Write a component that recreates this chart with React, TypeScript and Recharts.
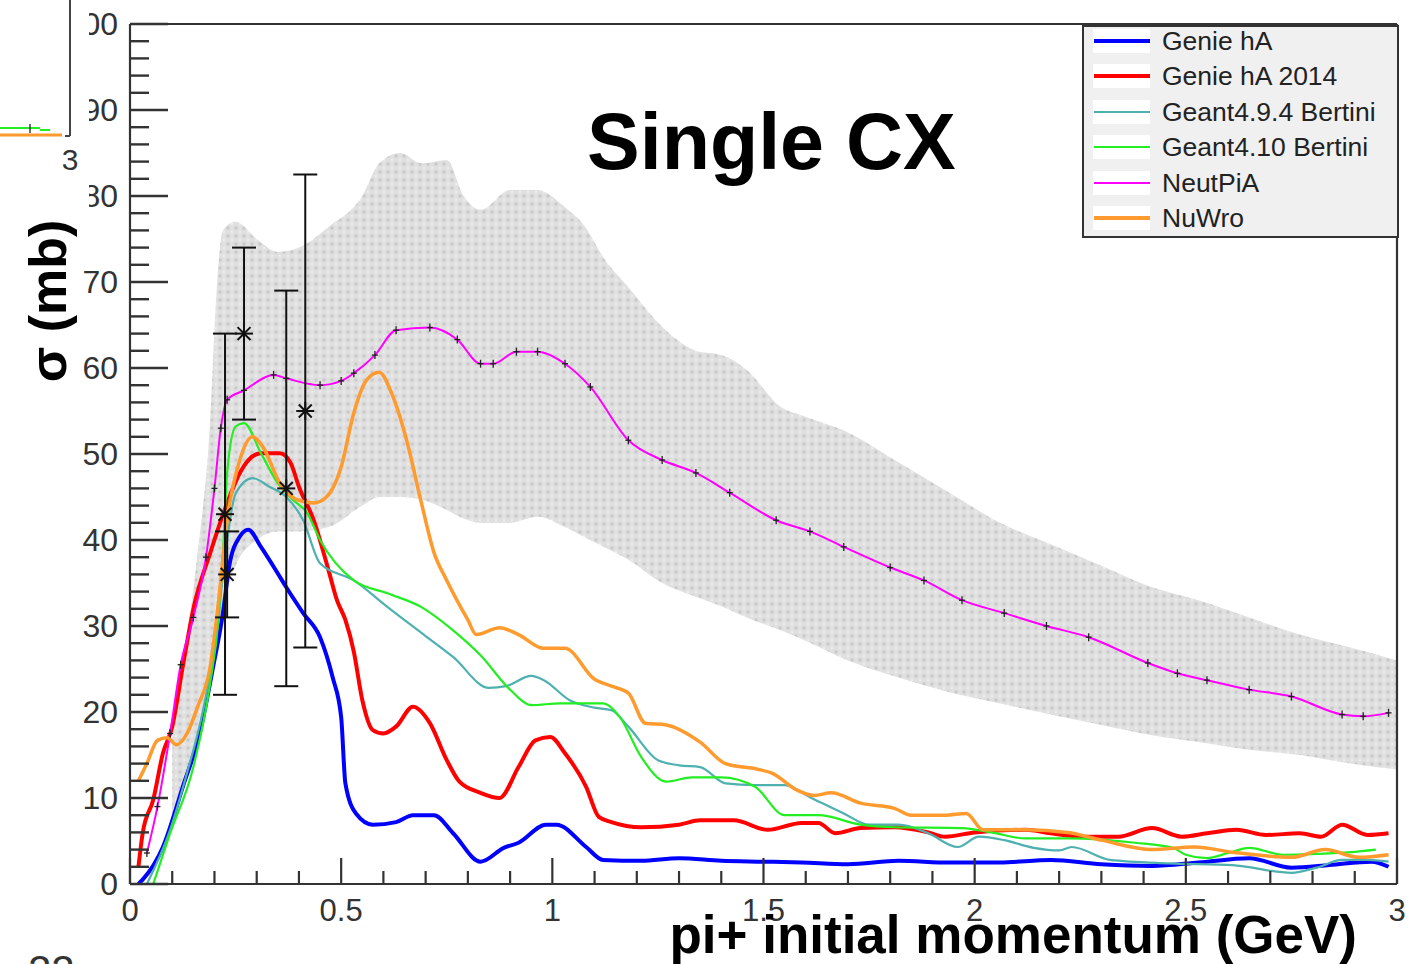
import React from 'react';
import {
  ComposedChart,
  Line,
  Area,
  Scatter,
  ErrorBar,
  XAxis,
  YAxis,
  ReferenceLine,
  Legend,
} from 'recharts';

type Pt = [number, number];

// pi+ single charge-exchange cross section (mb) vs initial momentum (GeV)
const genieHA: Pt[] = [
  [0.02, 0], [0.03, 0.5], [0.078, 4.3], [0.125, 11.3], [0.165, 17.5], [0.197, 25.3], [0.22, 31.5],
  [0.235, 37], [0.26, 40.4], [0.28, 41.2], [0.31, 39.2], [0.35, 36.1], [0.37, 34.5], [0.41, 31.5],
  [0.45, 28.7], [0.48, 24], [0.5, 19.4], [0.51, 11.7], [0.535, 8.2], [0.575, 6.9], [0.63, 7.2],
  [0.67, 8], [0.72, 8], [0.765, 5.9], [0.83, 2.6], [0.885, 4.2], [0.92, 4.8], [0.985, 6.9],
  [1.01, 6.9], [1.08, 4.3], [1.12, 2.8], [1.21, 2.7], [1.3, 3], [1.4, 2.7], [1.5, 2.6], [1.59, 2.5],
  [1.7, 2.3], [1.82, 2.7], [1.94, 2.5], [2.06, 2.5], [2.18, 2.8], [2.3, 2.3], [2.42, 2.1],
  [2.53, 2.5], [2.65, 3], [2.75, 1.9], [2.84, 2.2], [2.94, 2.6], [2.98, 2],
];

const genieHA2014: Pt[] = [
  [0.02, 2], [0.03, 5.9], [0.055, 9.8], [0.078, 15.2], [0.1, 18.3], [0.125, 25.3], [0.15, 32],
  [0.19, 38.5], [0.23, 44.3], [0.26, 47.8], [0.31, 50.1], [0.355, 50.1], [0.38, 49], [0.4, 46.2],
  [0.435, 42.3], [0.47, 36.5], [0.49, 33], [0.51, 30.7], [0.53, 27], [0.55, 21.4], [0.575, 17.9],
  [0.6, 17.5], [0.63, 18.3], [0.67, 20.6], [0.71, 18.7], [0.75, 14.4], [0.78, 11.9], [0.83, 10.6],
  [0.875, 10], [0.92, 13.6], [0.96, 16.7], [0.995, 17.1], [1.03, 15.2], [1.08, 11.3], [1.11, 7.8],
  [1.14, 7.2], [1.21, 6.6], [1.3, 6.9], [1.35, 7.4], [1.43, 7.4], [1.51, 6.3], [1.59, 7.1],
  [1.63, 7.1], [1.67, 5.9], [1.73, 6.5], [1.81, 6.6], [1.89, 6], [1.93, 5.5], [2.0, 6], [2.12, 6.3],
  [2.18, 5.9], [2.26, 5.5], [2.34, 5.5], [2.42, 6.5], [2.49, 5.5], [2.55, 5.9], [2.62, 6.3],
  [2.69, 5.7], [2.77, 5.9], [2.82, 5.5], [2.87, 6.9], [2.93, 5.7], [2.98, 5.9],
];

const geant494: Pt[] = [
  [0.04, 0], [0.095, 6.3], [0.135, 12.9], [0.173, 20.2], [0.205, 29.2], [0.225, 38], [0.25, 45.4],
  [0.29, 47.2], [0.33, 46.2], [0.37, 45], [0.41, 42.3], [0.45, 37.3], [0.53, 35.3], [0.61, 32.2],
  [0.69, 29.2], [0.765, 26.4], [0.85, 22.8], [0.89, 23], [0.95, 24.2], [0.98, 23.7], [1.04, 21.4],
  [1.1, 20.5], [1.14, 20.2], [1.18, 18.3], [1.25, 14.4], [1.3, 13.8], [1.35, 13.6], [1.41, 11.7],
  [1.48, 11.5], [1.55, 11.5], [1.61, 10.1], [1.69, 8.2], [1.75, 6.9], [1.82, 6.9], [1.89, 5.9],
  [1.96, 4.3], [2.01, 5.5], [2.07, 5.1], [2.14, 4.2], [2.2, 3.9], [2.23, 4.3], [2.32, 2.8],
  [2.46, 2.4], [2.61, 2.2], [2.75, 1.3], [2.81, 1.9], [2.87, 2.8], [2.93, 2.8], [2.98, 2.6],
];

const geant410: Pt[] = [
  [0.055, 0], [0.095, 5.9], [0.15, 13.6], [0.19, 23.4], [0.21, 31], [0.22, 38.5], [0.23, 47.8],
  [0.25, 53.2], [0.27, 53.6], [0.31, 50.1], [0.35, 46.6], [0.385, 44.7], [0.42, 43.1], [0.45, 40],
  [0.53, 35.3], [0.61, 33.8], [0.69, 32.2], [0.765, 29.5], [0.83, 26.6], [0.9, 22.6], [0.95, 20.8],
  [1.02, 21], [1.12, 21], [1.16, 19.4], [1.21, 14.8], [1.27, 11.9], [1.33, 12.4], [1.4, 12.4],
  [1.48, 11.3], [1.55, 8], [1.63, 8], [1.73, 6.9], [1.81, 6.6], [1.97, 6.5], [2.04, 6], [2.12, 5.3],
  [2.22, 5.3], [2.38, 4.8], [2.47, 4.2], [2.5, 3.4], [2.55, 3], [2.6, 3.6], [2.65, 4.2], [2.73, 3.4],
  [2.81, 3.5], [2.89, 3.7], [2.95, 4],
];

const neutPiA: Pt[] = [
  [0.04, 3.6], [0.065, 9], [0.095, 17.5], [0.12, 25.5], [0.15, 31], [0.18, 38], [0.2, 46],
  [0.215, 53], [0.23, 56.3], [0.27, 57.4], [0.34, 59.2], [0.37, 58.8], [0.45, 58], [0.5, 58.5],
  [0.53, 59.4], [0.58, 61.5], [0.63, 64.4], [0.71, 64.7], [0.775, 63.3], [0.83, 60.5], [0.86, 60.5],
  [0.915, 61.9], [0.965, 61.9], [1.03, 60.5], [1.09, 57.8], [1.18, 51.6], [1.26, 49.3],
  [1.34, 47.8], [1.42, 45.5], [1.53, 42.3], [1.61, 41], [1.69, 39.2], [1.8, 36.8], [1.88, 35.3],
  [1.97, 33], [2.07, 31.5], [2.17, 30], [2.27, 28.7], [2.41, 25.7], [2.48, 24.5], [2.55, 23.7],
  [2.65, 22.6], [2.75, 21.8], [2.87, 19.7], [2.92, 19.5], [2.98, 19.9],
];

const nuWro: Pt[] = [
  [0.02, 12], [0.04, 14], [0.065, 16.7], [0.088, 17], [0.11, 16.2], [0.135, 17.5], [0.16, 20.6],
  [0.19, 25.3], [0.21, 33], [0.23, 42.3], [0.26, 49.3], [0.29, 52], [0.315, 50.8], [0.355, 46.6],
  [0.395, 44.7], [0.435, 44.3], [0.465, 45], [0.5, 48.5], [0.53, 54.8], [0.56, 58.6], [0.59, 59.5],
  [0.62, 57], [0.655, 51.6], [0.69, 44.3], [0.72, 38.5], [0.75, 35.3], [0.8, 30.7], [0.82, 29],
  [0.875, 29.8], [0.92, 29], [0.98, 27.4], [1.03, 27.4], [1.1, 23.8], [1.14, 23], [1.18, 22.2],
  [1.22, 18.7], [1.27, 18.5], [1.35, 16.5], [1.41, 14], [1.49, 13.3], [1.52, 12.9], [1.58, 10.9],
  [1.62, 10.3], [1.66, 10.6], [1.73, 9.4], [1.81, 8.8], [1.85, 8], [1.93, 8], [1.98, 8.2],
  [2.02, 6.3], [2.12, 6.3], [2.22, 6], [2.3, 5.1], [2.42, 4], [2.52, 4.3], [2.61, 3.7], [2.75, 3.1],
  [2.83, 4], [2.91, 3.1], [2.98, 3.4],
];

// NeutPiA uncertainty band
const bandMomenta = [
  0.1, 0.13, 0.16, 0.19, 0.205, 0.22, 0.25, 0.3, 0.35, 0.4, 0.47, 0.55, 0.59, 0.64, 0.69, 0.75, 0.79,
  0.83, 0.9, 0.965, 1.03, 1.07, 1.13, 1.18, 1.26, 1.34, 1.4, 1.46, 1.54, 1.59, 1.7, 1.82, 1.94, 2.06,
  2.18, 2.3, 2.42, 2.53, 2.65, 2.77, 2.89, 3.0,
];
const bandLower = [
  8, 12, 17, 24, 28, 32, 37, 40, 41, 41, 41.5, 44, 45, 45, 44.7, 43.5, 42.5, 42, 42, 42.7, 41.5, 40.5,
  39, 37.7, 35, 33.4, 32.3, 31, 29.5, 28.5, 26, 24, 22.3, 21, 19.7, 18.5, 17.3, 16.5, 15.6, 15, 14, 13.3,
];
const bandUpper = [
  18, 27, 38.5, 54, 69, 76, 77, 75, 73.5, 74, 76.4, 80, 83.8, 85, 83.8, 84.2, 80, 78.4, 80.7, 80.7,
  78.7, 76.9, 72.2, 69.4, 64.8, 62, 61.5, 59.8, 55.5, 54.5, 52.5, 49, 45.5, 42, 39.5, 37, 34.5, 33,
  31, 29, 27.5, 26,
];

// measured points with errors
const dataMomenta = [0.225, 0.23, 0.27, 0.37, 0.415];
const dataValues = [43, 36, 64, 46, 55];
const dataErrors = [21, 5, 10, 23, 27.5];

const xMajorTicks = [0, 0.5, 1, 1.5, 2, 2.5, 3];
const xTickLabels = ['0', '0.5', '1', '1.5', '2', '2.5', '3'];
const yMajorTicks = [0, 10, 20, 30, 40, 50, 60, 70, 80, 90, 100];
const yTickLabels = ['0', '10', '20', '30', '40', '50', '60', '70', '80', '90', '100'];

const seriesNames = ['Genie hA', 'Genie hA 2014', 'Geant4.9.4 Bertini', 'Geant4.10 Bertini', 'NeutPiA', 'NuWro'];
const seriesColors = ['#0000ff', '#ff0000', '#4fb0b0', '#22ee22', '#ff00ff', '#ff9a2e'];
const seriesWidths = [4, 4, 2.2, 2.2, 2, 3.5];
const seriesPoints = [genieHA, genieHA2014, geant494, geant410, neutPiA, nuWro];

const FONT = '"Liberation Sans", Arial, Helvetica, sans-serif';
const AXIS_COLOR = '#333';
const X_TICK_MARGIN = 14;
const Y_TICK_MARGIN = 12;

// minor ticks every 0.1 GeV and every 2 mb
const xTicks: number[] = [];
for (let i = 0; i <= 30; i++) xTicks.push(Math.round(i * 10) / 100);
const yTicks: number[] = [];
for (let i = 0; i <= 50; i++) yTicks.push(i * 2);

const toRows = (pts: Pt[]) => pts.map(([p, v]) => ({ p, v }));
const bandRows = bandMomenta.map((p, i) => ({ p, range: [bandLower[i], bandUpper[i]] }));
const pointRows = dataMomenta.map((p, i) => ({ p, v: dataValues[i], err: dataErrors[i] }));

function XTick(props: any) {
  const { x, y, payload } = props;
  const v = payload.value as number;
  const idx = xMajorTicks.findIndex((m) => Math.abs(m - v) < 1e-6);
  const axisY = y - X_TICK_MARGIN;
  const len = idx >= 0 ? 26 : 13;
  return (
    <g>
      <line x1={x} x2={x} y1={axisY} y2={axisY - len} stroke={AXIS_COLOR} strokeWidth={2.2} />
      {idx >= 0 && (
        <text x={x} y={axisY + 37} textAnchor="middle" fontSize={31} fill="#333" fontFamily={FONT}>
          {xTickLabels[idx]}
        </text>
      )}
    </g>
  );
}

function YTick(props: any) {
  const { x, y, payload } = props;
  const v = payload.value as number;
  const idx = yMajorTicks.findIndex((m) => Math.abs(m - v) < 1e-6);
  const axisX = x + Y_TICK_MARGIN;
  const len = idx >= 0 ? 38 : 19;
  return (
    <g>
      <line x1={axisX} x2={axisX + len} y1={y} y2={y} stroke={AXIS_COLOR} strokeWidth={2.4} />
      {idx >= 0 && (
        <text x={axisX - 12} y={y + 11} textAnchor="end" fontSize={32} fill="#333" fontFamily={FONT}>
          {yTickLabels[idx]}
        </text>
      )}
    </g>
  );
}

function Star(props: any) {
  const { cx, cy } = props;
  const r = 9;
  const d = r * 0.72;
  return (
    <g stroke="#111" strokeWidth={2}>
      <line x1={cx - r} x2={cx + r} y1={cy} y2={cy} />
      <line x1={cx} x2={cx} y1={cy - r} y2={cy + r} />
      <line x1={cx - d} x2={cx + d} y1={cy - d} y2={cy + d} />
      <line x1={cx - d} x2={cx + d} y1={cy + d} y2={cy - d} />
    </g>
  );
}

function NeutMark(props: any) {
  const { cx, cy, index } = props;
  if (cx == null || cy == null) return <g key={`nm-${index}`} />;
  return (
    <g key={`nm-${index}`} stroke="#222" strokeWidth={1.3}>
      <line x1={cx} x2={cx} y1={cy - 4} y2={cy + 4} />
      <line x1={cx - 3} x2={cx + 3} y1={cy} y2={cy} />
    </g>
  );
}

function LegendBox() {
  return (
    <div
      style={{
        width: 317,
        height: 213,
        boxSizing: 'border-box',
        border: '2px solid #333',
        background: '#f0f0f0',
        position: 'relative',
        fontFamily: FONT,
      }}
    >
      {seriesNames.map((name, i) => {
        const cy = 14 + i * 35.4;
        return (
          <div key={name}>
            <div
              style={{
                position: 'absolute',
                left: 9,
                top: cy - 12,
                width: 57,
                height: 24,
                background: '#fff',
              }}
            />
            <div
              style={{
                position: 'absolute',
                left: 10,
                top: cy - seriesWidths[i] / 2,
                width: 56,
                height: seriesWidths[i],
                background: seriesColors[i],
              }}
            />
            <div
              style={{
                position: 'absolute',
                left: 78,
                top: cy - 15,
                height: 30,
                lineHeight: '30px',
                fontSize: 26.5,
                color: '#222',
                whiteSpace: 'nowrap',
              }}
            >
              {name}
            </div>
          </div>
        );
      })}
    </div>
  );
}

export default function App() {
  return (
    <div
      style={{
        position: 'absolute',
        left: 0,
        top: 0,
        width: 1408,
        height: 964,
        overflow: 'hidden',
        background: '#fff',
      }}
    >
      <ComposedChart width={1408} height={964} margin={{ top: 24, right: 11, bottom: 40, left: 70 }}>
        <defs>
          <pattern id="bandHatch" width="8" height="8" patternUnits="userSpaceOnUse">
            <rect width="8" height="8" fill="#e0e0e0" />
            <circle cx="4" cy="4" r="1.7" fill="#c9c9c9" />
            <circle cx="0" cy="0" r="1.1" fill="#f3f3f3" />
            <circle cx="8" cy="0" r="1.1" fill="#f3f3f3" />
            <circle cx="0" cy="8" r="1.1" fill="#f3f3f3" />
            <circle cx="8" cy="8" r="1.1" fill="#f3f3f3" />
          </pattern>
        </defs>
        <XAxis
          type="number"
          dataKey="p"
          domain={[0, 3]}
          ticks={xTicks}
          interval={0}
          tickSize={0}
          tickMargin={X_TICK_MARGIN}
          tickLine={false}
          tick={XTick}
          height={40}
          allowDataOverflow
          axisLine={{ stroke: AXIS_COLOR, strokeWidth: 2.2 }}
        />
        <YAxis
          type="number"
          domain={[0, 100]}
          ticks={yTicks}
          interval={0}
          tickSize={0}
          tickMargin={Y_TICK_MARGIN}
          tickLine={false}
          tick={YTick}
          width={60}
          allowDataOverflow
          axisLine={{ stroke: AXIS_COLOR, strokeWidth: 2.2 }}
        />
        <ReferenceLine y={100} stroke={AXIS_COLOR} strokeWidth={2.2} />
        <ReferenceLine x={3} stroke={AXIS_COLOR} strokeWidth={2.2} />
        <Area
          data={bandRows}
          dataKey="range"
          type="monotone"
          stroke="none"
          fill="url(#bandHatch)"
          fillOpacity={1}
          isAnimationActive={false}
          legendType="none"
        />
        {seriesPoints.map((pts, i) => (
          <Line
            key={seriesNames[i]}
            data={toRows(pts)}
            dataKey="v"
            name={seriesNames[i]}
            type="monotone"
            stroke={seriesColors[i]}
            strokeWidth={seriesWidths[i]}
            dot={seriesNames[i] === 'NeutPiA' ? NeutMark : false}
            activeDot={false}
            isAnimationActive={false}
          />
        ))}
        <Scatter data={pointRows} dataKey="v" shape={Star} isAnimationActive={false} legendType="none">
          <ErrorBar dataKey="err" direction="y" width={12} stroke="#111" strokeWidth={2} />
        </Scatter>
        <Legend
          layout="vertical"
          align="center"
          verticalAlign="middle"
          content={() => <LegendBox />}
          wrapperStyle={{ left: 1082, top: 25, width: 317, height: 213 }}
        />
      </ComposedChart>

      <svg
        width={1408}
        height={964}
        style={{ position: 'absolute', left: 0, top: 0, pointerEvents: 'none' }}
        fontFamily={FONT}
      >
        <text x={587} y={169} fontSize={79} fontWeight="bold" fill="#000">
          Single CX
        </text>
        <text x={1357} y={953} fontSize={53} fontWeight="bold" fill="#000" textAnchor="end">
          pi+ initial momentum (GeV)
        </text>
        <text
          x={66}
          y={301}
          fontSize={52}
          fontWeight="bold"
          fill="#000"
          textAnchor="middle"
          transform="rotate(-90, 66, 301)"
        >
          σ (mb)
        </text>
        <text x={28} y={985} fontSize={42} fill="#333">
          22
        </text>
      </svg>

      <svg
        width={89}
        height={210}
        style={{ position: 'absolute', left: 0, top: 0, pointerEvents: 'none' }}
        fontFamily={FONT}
      >
        <rect x={0} y={0} width={89} height={210} fill="#fff" />
        <line x1={70} x2={70} y1={0} y2={136} stroke="#444" strokeWidth={2} />
        <line x1={65} x2={70} y1={136} y2={136} stroke="#444" strokeWidth={2} />
        <line x1={0} x2={62} y1={135} y2={135} stroke="#ff9a2e" strokeWidth={3} />
        <line x1={0} x2={40} y1={128} y2={128} stroke="#22ee22" strokeWidth={2} />
        <line x1={40} x2={50} y1={130} y2={130} stroke="#22ee22" strokeWidth={2} />
        <line x1={30} x2={30} y1={124} y2={133} stroke="#222" strokeWidth={1.3} />
        <text x={70} y={170} fontSize={30} fill="#333" textAnchor="middle">
          3
        </text>
      </svg>
    </div>
  );
}
